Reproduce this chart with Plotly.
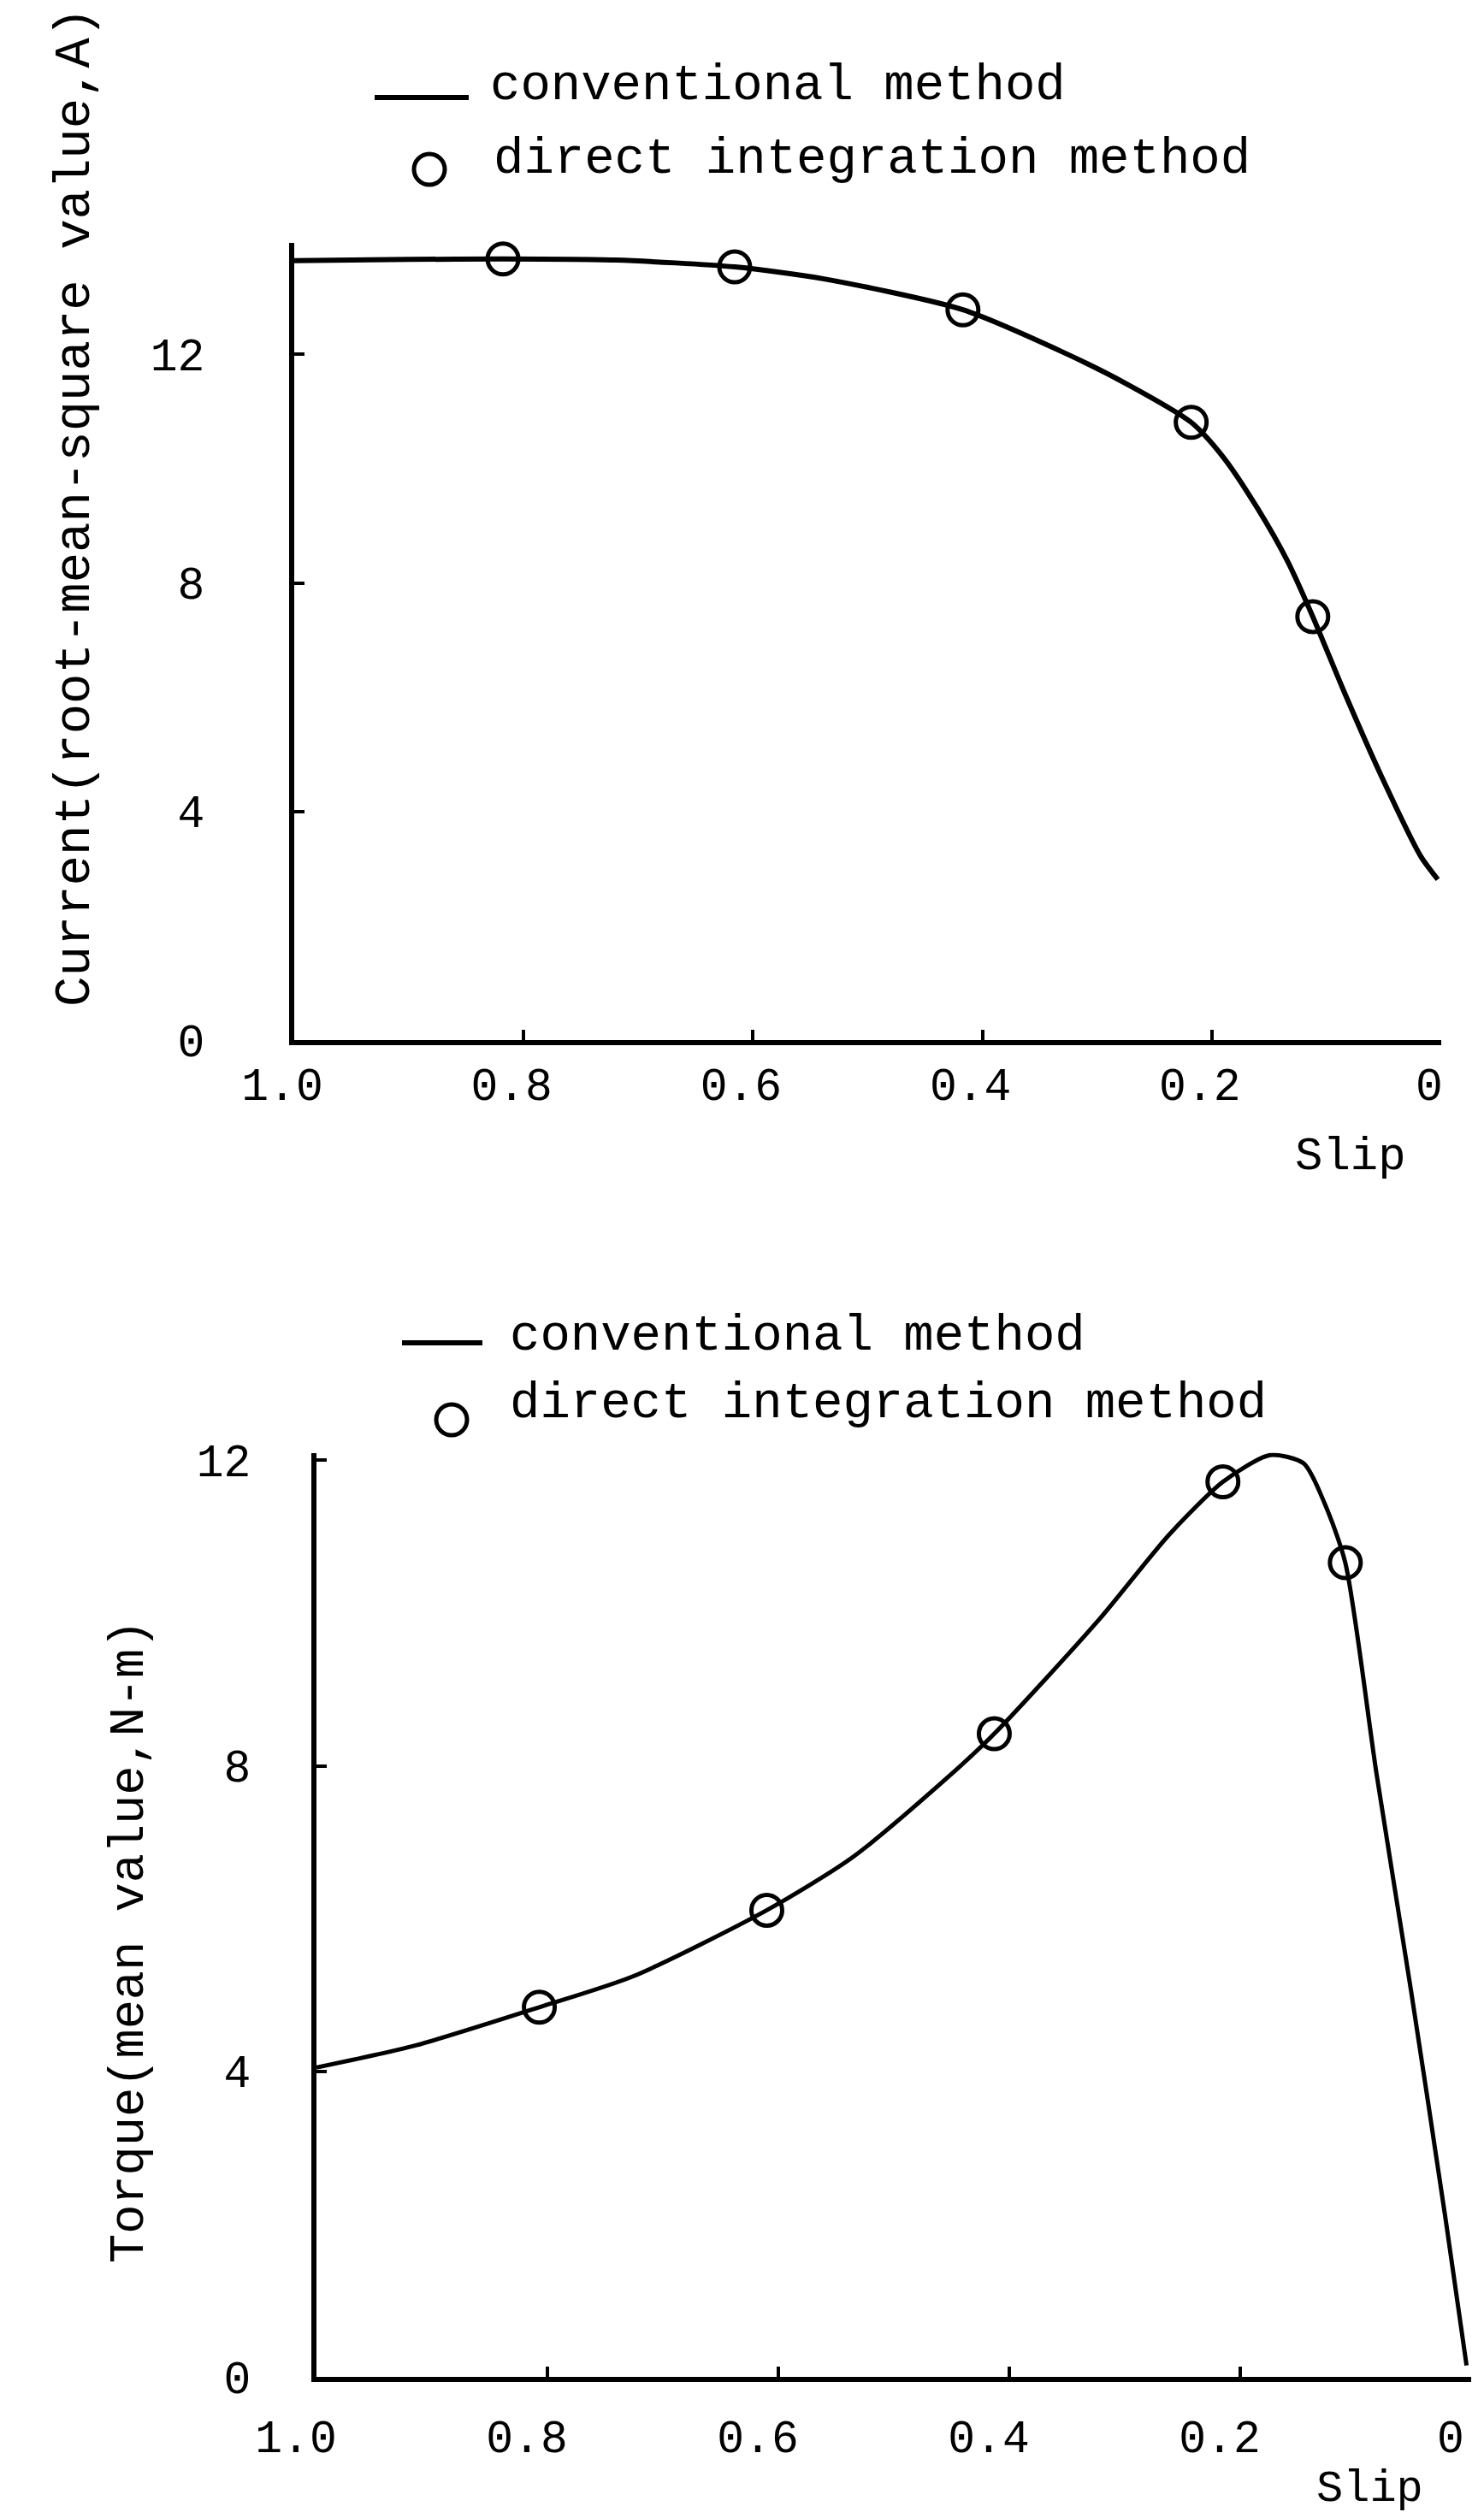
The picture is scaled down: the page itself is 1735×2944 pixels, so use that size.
import plotly.graph_objects as go

W, H = 1735, 2944
MONO = "Liberation Mono, Courier New, monospace"

# ---------------- data ----------------
# upper chart: current (rms, A) vs slip
slip_line_current = [1.00, 0.90, 0.818, 0.72, 0.616, 0.538, 0.417, 0.330, 0.274,
                     0.218, 0.19, 0.16, 0.134, 0.112, 0.085, 0.052, 0.018, 0.003]
current_line = [13.64, 13.66, 13.67, 13.65, 13.53, 13.32, 12.78, 12.04, 11.48,
                10.81, 10.20, 9.30, 8.38, 7.41, 6.11, 4.61, 3.22, 2.81]
slip_pts_current = [0.818, 0.616, 0.417, 0.218, 0.112]
current_pts = [13.67, 13.53, 12.78, 10.81, 7.41]

# lower chart: torque (mean, N-m) vs slip
slip_line_torque = [1.00, 0.914, 0.807, 0.725, 0.610, 0.536, 0.457, 0.413, 0.322,
                    0.262, 0.215, 0.174, 0.145, 0.127, 0.109, 0.082, 0.052, 0.022, 0.004]
torque_line = [4.05, 4.34, 4.84, 5.25, 6.11, 6.80, 7.80, 8.42, 9.92,
               11.02, 11.72, 12.07, 11.96, 11.44, 10.66, 7.90, 5.05, 2.05, 0.15]
slip_pts_torque = [0.807, 0.610, 0.413, 0.215, 0.109]
torque_pts = [4.84, 6.11, 8.42, 11.72, 10.66]

x_tickvals = [1.0, 0.8, 0.6, 0.4, 0.2, 0.0]
x_ticktext = ["1.0", "0.8", "0.6", "0.4", "0.2", "0"]
y_tickvals = [0, 4, 8, 12]
y_ticktext = ["0", "4", "8", "12"]

legend_names = ["conventional method", "direct integration method"]


def px(x):
    return x / W


def py(y):
    return 1 - y / H


fig = go.Figure()

marker_style = dict(symbol="circle-open", size=36, color="black",
                    line=dict(width=5, color="black"))

fig.add_trace(go.Scatter(x=slip_line_current, y=current_line, mode="lines",
                         line=dict(color="black", width=6, shape="spline", smoothing=0.7),
                         name=legend_names[0], showlegend=False,
                         xaxis="x", yaxis="y"))
fig.add_trace(go.Scatter(x=slip_pts_current, y=current_pts, mode="markers",
                         marker=marker_style, name=legend_names[1], showlegend=False,
                         xaxis="x", yaxis="y", cliponaxis=False))
fig.add_trace(go.Scatter(x=slip_line_torque, y=torque_line, mode="lines",
                         line=dict(color="black", width=5, shape="spline", smoothing=0.7),
                         name=legend_names[0], showlegend=False,
                         xaxis="x2", yaxis="y2"))
fig.add_trace(go.Scatter(x=slip_pts_torque, y=torque_pts, mode="markers",
                         marker=marker_style, name=legend_names[1], showlegend=False,
                         xaxis="x2", yaxis="y2", cliponaxis=False))

tickfont = dict(family=MONO, size=53, color="black")
common_x = dict(range=[1.0, 0.0], tickvals=x_tickvals, ticktext=x_ticktext,
                showline=True, linecolor="black", linewidth=6, showgrid=False,
                zeroline=False, ticks="inside", ticklen=12, tickwidth=4,
                tickcolor="black", tickfont=tickfont, automargin=False)
common_y = dict(tickvals=y_tickvals, ticktext=y_ticktext,
                showline=True, linecolor="black", linewidth=6, showgrid=False,
                zeroline=False, ticks="inside", ticklen=12, tickwidth=4,
                tickcolor="black", tickfont=tickfont, automargin=False)

fig.update_layout(
    width=W, height=H,
    autosize=False,
    margin=dict(l=0, r=0, t=0, b=0, pad=0, autoexpand=False),
    paper_bgcolor="white", plot_bgcolor="white",
    showlegend=False,
    xaxis=dict(domain=[px(336), px(1677)], anchor="y", ticklabelstandoff=0,
               ticklabelshift=14, **common_x),
    yaxis=dict(domain=[py(1208), py(276)], anchor="x", range=[0, 13.95],
               ticklabelstandoff=88, **common_y),
    xaxis2=dict(domain=[px(362), px(1712)], anchor="y2", ticklabelstandoff=18,
                ticklabelshift=24, **common_x),
    yaxis2=dict(domain=[py(2771), py(1690.5)], anchor="x2", range=[0, 12.1],
                ticklabelstandoff=60, **common_y),
)

annotations = []
shapes = []

# axis titles
annotations.append(dict(text="Current(root-mean-square value,A)", x=px(80), y=py(585),
                        xref="paper", yref="paper", textangle=-90, showarrow=False,
                        xanchor="center", yanchor="middle",
                        font=dict(family=MONO, size=59, color="black")))
annotations.append(dict(text="Torque(mean value,N-m)", x=px(144), y=py(2262),
                        xref="paper", yref="paper", textangle=-90, showarrow=False,
                        xanchor="center", yanchor="middle",
                        font=dict(family=MONO, size=57, color="black")))
annotations.append(dict(text="Slip", x=px(1571), y=py(1344), xref="paper", yref="paper",
                        showarrow=False, xanchor="center", yanchor="middle",
                        font=dict(family=MONO, size=54, color="black")))
annotations.append(dict(text="Slip", x=px(1593), y=py(2902), xref="paper", yref="paper",
                        showarrow=False, xanchor="center", yanchor="middle",
                        font=dict(family=MONO, size=52, color="black")))

# legends (key drawn beside the text)
legend_specs = [
    # (line x0, x1, line y, text1 x, text1 y, circle cx, cy, text2 x, text2 y)
    (430, 540, 106, 563, 93, 494, 190, 567, 179),
    (462, 556, 1562, 586, 1554, 520, 1652, 586, 1633),
]
for (lx0, lx1, ly, t1x, t1y, cx, cy, t2x, t2y) in legend_specs:
    shapes.append(dict(type="line", xref="paper", yref="paper",
                       x0=px(lx0), x1=px(lx1), y0=py(ly), y1=py(ly),
                       line=dict(color="black", width=6)))
    r = 18
    shapes.append(dict(type="circle", xref="paper", yref="paper",
                       x0=px(cx - r), x1=px(cx + r), y0=py(cy + r), y1=py(cy - r),
                       line=dict(color="black", width=5)))
    annotations.append(dict(text=legend_names[0], x=px(t1x), y=py(t1y),
                            xref="paper", yref="paper", showarrow=False,
                            xanchor="left", yanchor="middle",
                            font=dict(family=MONO, size=59, color="black")))
    annotations.append(dict(text=legend_names[1], x=px(t2x), y=py(t2y),
                            xref="paper", yref="paper", showarrow=False,
                            xanchor="left", yanchor="middle",
                            font=dict(family=MONO, size=59, color="black")))

fig.update_layout(annotations=annotations, shapes=shapes)

fig.write_html("out.html")
